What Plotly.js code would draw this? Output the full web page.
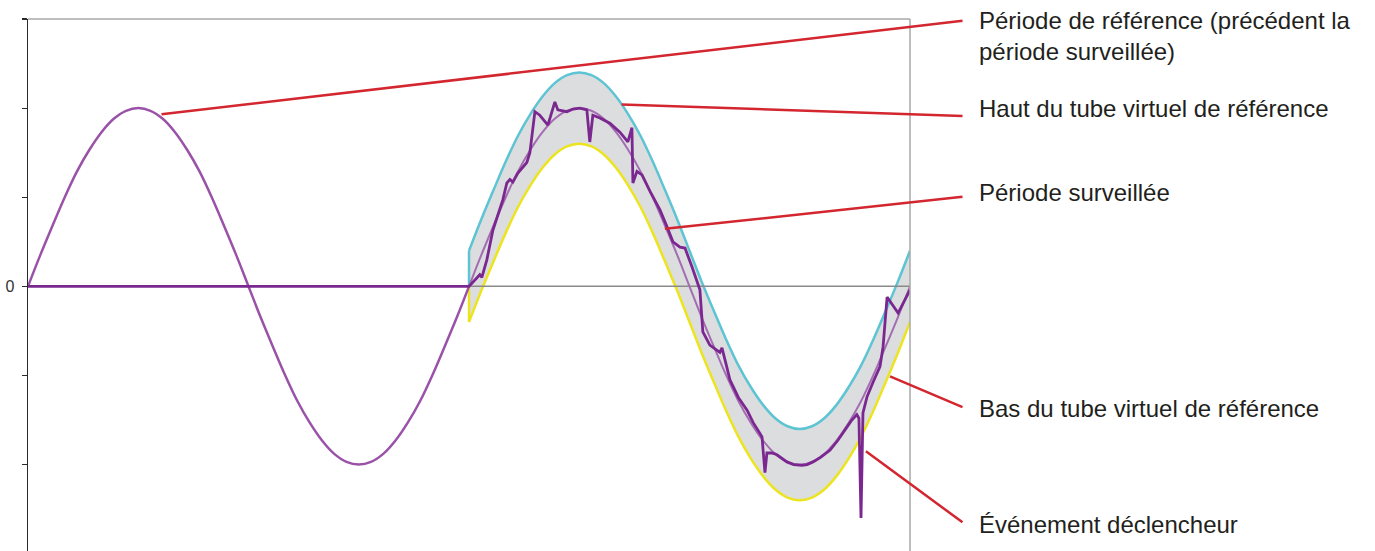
<!DOCTYPE html>
<html>
<head>
<meta charset="utf-8">
<script src="https://cdn.plot.ly/plotly-3.0.1.min.js"></script>
<style>html,body{margin:0;padding:0;background:#fff;}#chart{width:1375px;height:551px;}</style>
</head>
<body>
<div id="chart"></div>
<script>
// ---- Data (phase in degrees, amplitude in axis units) ----
const refDeg = Array.from({length: 73}, (_, i) => i * 10);
const refValues = [
  0, 0.35, 0.68, 1.00, 1.29, 1.53, 1.73, 1.88, 1.97, 2.00, 1.97, 1.88, 1.73, 1.53, 1.29, 1.00, 0.68, 0.35,
  0, -0.35, -0.68, -1.00, -1.29, -1.53, -1.73, -1.88, -1.97, -2.00, -1.97, -1.88, -1.73, -1.53, -1.29, -1.00, -0.68, -0.35,
  0, 0.35, 0.68, 1.00, 1.29, 1.53, 1.73, 1.88, 1.97, 2.00, 1.97, 1.88, 1.73, 1.53, 1.29, 1.00, 0.68, 0.35,
  0, -0.35, -0.68, -1.00, -1.29, -1.53, -1.73, -1.88, -1.97, -2.00, -1.97, -1.88, -1.73, -1.53, -1.29, -1.00, -0.68, -0.35,
  0
];

const tubeDeg = Array.from({length: 37}, (_, i) => 360 + i * 10);
const tubeHigh = [0.40, 0.75, 1.08, 1.40, 1.69, 1.93, 2.13, 2.28, 2.37, 2.40, 2.37, 2.28, 2.13, 1.93, 1.69, 1.40, 1.08, 0.75,
  0.40, 0.05, -0.28, -0.60, -0.89, -1.13, -1.33, -1.48, -1.57, -1.60, -1.57, -1.48, -1.33, -1.13, -0.89, -0.60, -0.28, 0.05, 0.40];
const tubeLow = [-0.40, -0.05, 0.28, 0.60, 0.89, 1.13, 1.33, 1.48, 1.57, 1.60, 1.57, 1.48, 1.33, 1.13, 0.89, 0.60, 0.28, -0.05,
  -0.40, -0.75, -1.08, -1.40, -1.69, -1.93, -2.13, -2.28, -2.37, -2.40, -2.37, -2.28, -2.13, -1.93, -1.69, -1.40, -1.08, -0.75, -0.40];
const tubeStartDeg = [360, 360];

const monDeg = [0, 360, 368.8, 370.5, 374.6, 379.5, 387.6, 390.9, 393.4, 395.8, 399.9, 407.2, 409.7, 413.8, 417.8, 424.4, 430.1,
  432.5, 439.9, 445, 450.5, 456.2, 458.6, 461.1, 466.8, 475, 483.2, 489.7, 493.0, 493.8, 497.1, 501.2, 508, 515.8, 521, 526.5, 532.2, 536.3,
  542, 548.5, 550.9, 556.6, 564.8, 566.5, 569.8, 573.0, 580, 587.0, 592, 597.5, 599.2, 601.6, 603.2, 607.3, 611.4, 619.5, 625, 631.8, 636, 640.8,
  647, 654.6, 661, 668.5, 672, 676.6, 678.3, 680.0, 681.6, 684.9, 690, 695.5, 698.0, 701.3, 710.3, 720];
const monValues = [0, 0, 0.13, 0.10, 0.30, 0.63, 0.97, 1.16, 1.20, 1.17, 1.27, 1.39, 1.50, 1.96, 1.92, 1.81, 2.07,
  1.98, 1.96, 1.99, 2.00, 1.98, 1.62, 1.92, 1.89, 1.83, 1.73, 1.62, 1.78, 1.16, 1.29, 1.25, 1.06, 0.86, 0.69, 0.50, 0.44, 0.43,
  0.22, -0.04, -0.51, -0.66, -0.74, -0.69, -0.87, -1.05, -1.25, -1.39, -1.53, -1.65, -1.69, -2.09, -1.87, -1.87, -1.89, -1.97, -2.00, -2.01, -2.00, -1.97,
  -1.92, -1.84, -1.73, -1.58, -1.51, -1.44, -1.48, -2.60, -1.42, -1.24, -1.07, -0.90, -0.68, -0.12, -0.30, -0.04];

const yTicks = [-3, -2, -1, 0, 1, 2, 3];
const yTickLabels = ['', '', '', '0', '', '', ''];

const labels = [
  'Période de référence (précédent la<br>période surveillée)',
  'Haut du tube virtuel de référence',
  'Période surveillée',
  'Bas du tube virtuel de référence',
  'Événement déclencheur'
];
const pointDeg = [109, 484.6, 519.9, 703.7, 684.0];
const pointVal = [1.93, 2.04, 0.645, -1.01, -1.85];

// ---- Layout constants ----
const W = 1375, H = 551;
const M = {l: 28, r: 465, t: 19, b: 0};
const xRange = [0, 720];
const yRange = [-2.97, 3];
const plotW = W - M.l - M.r, plotH = H - M.t - M.b;
const labelX = 977;                  // px
const labelY = [35.7, 108.3, 192.3, 409, 524.3];   // px, text centres
const tailX = 963;                   // px
const tailY = [20.7, 116, 196.7, 407.3, 522.7];     // px

const C = {
  ref: '#9a52a8', refLight: '#a46db2', mon: '#7a2890',
  high: '#5cc4d2', low: '#ece41e', fill: '#dcdddf',
  zero: '#8a8a8a', red: '#d3262f', text: '#231f20'
};

const smooth = {shape: 'spline', smoothing: 1, simplify: false};

const traces = [
  {x: tubeDeg, y: tubeLow, mode: 'lines', line: Object.assign({color: C.low, width: 2.5}, smooth), hoverinfo: 'skip', name: 'Bas du tube'},
  {x: tubeDeg, y: tubeHigh, mode: 'lines', line: Object.assign({color: C.high, width: 2.5}, smooth), fill: 'tonexty', fillcolor: C.fill, hoverinfo: 'skip', name: 'Haut du tube'},
  {x: tubeStartDeg, y: [0, tubeHigh[0]], mode: 'lines', line: {color: C.high, width: 2.5}, hoverinfo: 'skip', name: 'début haut'},
  {x: tubeStartDeg, y: [0, tubeLow[0]], mode: 'lines', line: {color: C.low, width: 2.5}, hoverinfo: 'skip', name: 'début bas'},
  {x: xRange, y: [0, 0], mode: 'lines', line: {color: C.zero, width: 1.5}, hoverinfo: 'skip', name: 'zéro'},
  {x: refDeg.slice(36), y: refValues.slice(36), mode: 'lines', line: Object.assign({color: C.refLight, width: 2}, smooth), name: 'Référence (suite)'},
  {x: refDeg.slice(0, 37), y: refValues.slice(0, 37), mode: 'lines', line: Object.assign({color: C.ref, width: 2.5}, smooth), name: 'Période de référence'},
  {x: monDeg, y: monValues, mode: 'lines', line: {color: C.mon, width: 2.8, simplify: false}, name: 'Période surveillée'}
];

const annotations = [];
labels.forEach((txt, i) => {
  annotations.push({
    xref: 'paper', yref: 'paper',
    x: (labelX - M.l) / plotW, y: (H - M.b - labelY[i]) / plotH,
    xanchor: 'left', yanchor: 'middle', align: 'left',
    text: txt, showarrow: false,
    font: {family: 'Liberation Sans, Arial, sans-serif', size: 24, color: C.text}
  });
  const hx = M.l + (pointDeg[i] - xRange[0]) / (xRange[1] - xRange[0]) * plotW;
  const hy = M.t + (yRange[1] - pointVal[i]) / (yRange[1] - yRange[0]) * plotH;
  annotations.push({
    xref: 'x', yref: 'y', x: pointDeg[i], y: pointVal[i],
    text: ' ', font: {size: 1}, borderpad: 0,
    showarrow: true, arrowhead: 0, arrowwidth: 2.5, arrowcolor: C.red, standoff: 0,
    ax: tailX - hx, ay: tailY[i] - hy
  });
});

const layout = {
  width: W, height: H, margin: M,
  paper_bgcolor: '#fff', plot_bgcolor: '#fff',
  showlegend: false,
  xaxis: {range: xRange, showline: false, showgrid: false, zeroline: false, showticklabels: false, ticks: '', fixedrange: true},
  yaxis: {range: yRange, showline: true, linecolor: '#2a2a2a', linewidth: 1.5, showgrid: false, zeroline: false,
    ticks: 'outside', ticklen: 5, tickcolor: '#2a2a2a', tickwidth: 1.2,
    tickvals: yTicks, ticktext: yTickLabels, ticklabelstandoff: 4,
    tickfont: {family: 'Liberation Sans, Arial, sans-serif', size: 16, color: '#333'}, fixedrange: true},
  shapes: [
    {type: 'line', xref: 'paper', yref: 'paper', x0: 0, x1: 1, y0: 1, y1: 1, line: {color: '#a8a8a8', width: 1.5}},
    {type: 'line', xref: 'paper', yref: 'paper', x0: 1, x1: 1, y0: 0, y1: 1, line: {color: '#a8a8a8', width: 1.5}}
  ],
  annotations: annotations
};

Plotly.newPlot('chart', traces, layout, {displayModeBar: false, staticPlot: true});
</script>
</body>
</html>
